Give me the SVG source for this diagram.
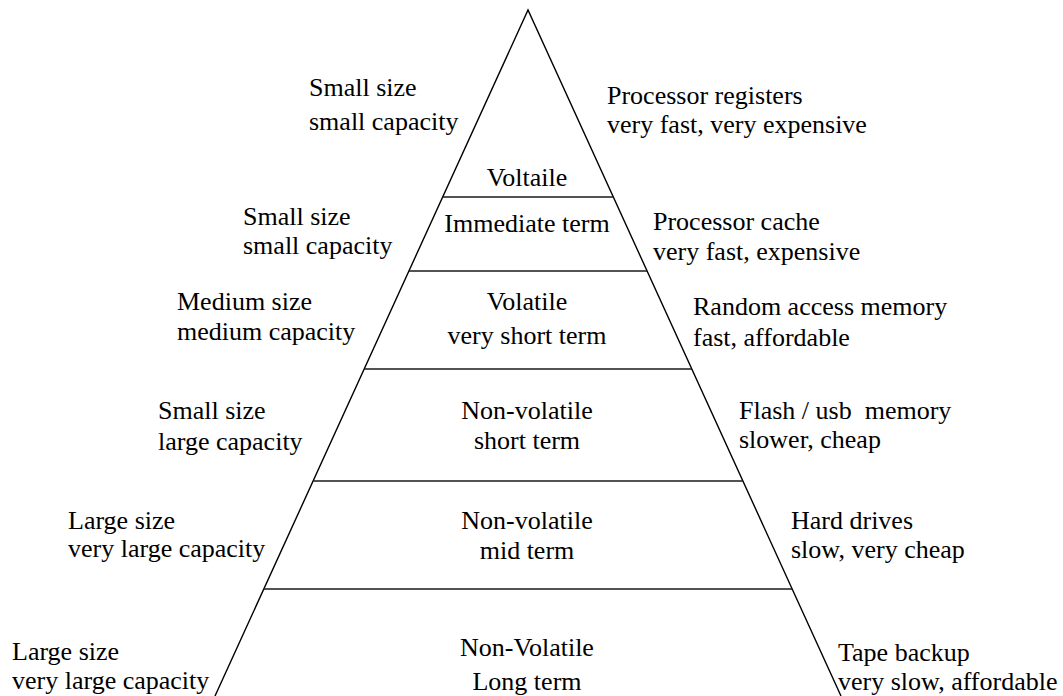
<svg xmlns="http://www.w3.org/2000/svg" width="1063" height="696" viewBox="0 0 1063 696">
  <style>
    .t { font-family: 'Liberation Serif', 'DejaVu Serif', serif; font-size: 26px; fill: #000; }
    .c { text-anchor: middle; }
    .edge { stroke: #000; stroke-width: 1.4; fill: none; }
    .div { stroke: #1a1a1a; stroke-width: 1.5; }
  </style>
  <rect width="1063" height="696" fill="#fff"/>
  <g id="connectors">
    <polyline class="edge" points="215,696 528,10 841,696"/>
    <line class="div" x1="442.7" y1="197" x2="613.3" y2="197"/>
    <line class="div" x1="408.9" y1="271" x2="647.1" y2="271"/>
    <line class="div" x1="364.2" y1="369" x2="691.8" y2="369"/>
    <line class="div" x1="313.1" y1="481" x2="742.9" y2="481"/>
    <line class="div" x1="263.8" y1="589" x2="792.2" y2="589"/>
  </g>
  <g class="t" font-family="Liberation Serif, DejaVu Serif, serif" font-size="26">
  <g id="tier-registers">
    <text class="c" x="527" y="186">Voltaile</text>
    <text x="309" y="96">Small size</text>
    <text x="309" y="130">small capacity</text>
    <text x="607" y="104">Processor registers</text>
    <text x="607" y="133">very fast, very expensive</text>
  </g>
  <g id="tier-cache">
    <text class="c" x="527" y="232">Immediate term</text>
    <text x="243" y="225">Small size</text>
    <text x="243" y="254">small capacity</text>
    <text x="653" y="230">Processor cache</text>
    <text x="653" y="260">very fast, expensive</text>
  </g>
  <g id="tier-ram">
    <text class="c" x="527" y="310">Volatile</text>
    <text class="c" x="527" y="344">very short term</text>
    <text x="177" y="310">Medium size</text>
    <text x="177" y="340">medium capacity</text>
    <text x="693" y="315">Random access memory</text>
    <text x="693" y="346">fast, affordable</text>
  </g>
  <g id="tier-flash">
    <text class="c" x="527" y="419">Non-volatile</text>
    <text class="c" x="527" y="449">short term</text>
    <text x="158" y="419">Small size</text>
    <text x="158" y="450">large capacity</text>
    <text x="739" y="419" xml:space="preserve">Flash / usb  memory</text>
    <text x="739" y="448">slower, cheap</text>
  </g>
  <g id="tier-hdd">
    <text class="c" x="527" y="529">Non-volatile</text>
    <text class="c" x="527" y="559">mid term</text>
    <text x="68" y="529">Large size</text>
    <text x="68" y="557">very large capacity</text>
    <text x="791" y="529">Hard drives</text>
    <text x="791" y="558">slow, very cheap</text>
  </g>
  <g id="tier-tape">
    <text class="c" x="527" y="656">Non-Volatile</text>
    <text class="c" x="527" y="690">Long term</text>
    <text x="12" y="660">Large size</text>
    <text x="12" y="689">very large capacity</text>
    <text x="838" y="661">Tape backup</text>
    <text x="838" y="690">very slow, affordable</text>
  </g>
  </g>
</svg>
